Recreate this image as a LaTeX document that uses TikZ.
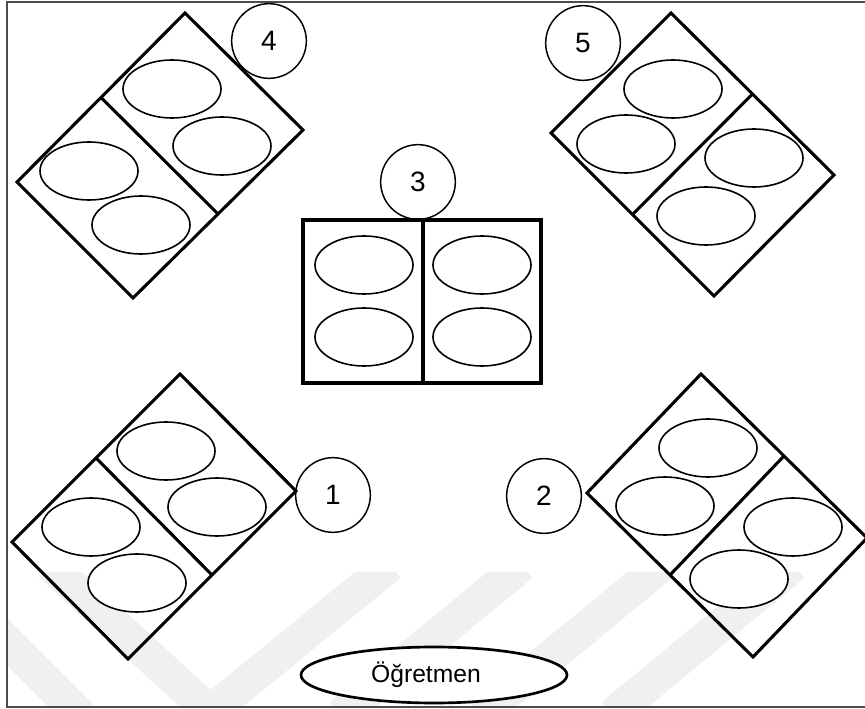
\documentclass[tikz,border=0pt]{standalone}
\usepackage{fontspec}
\setmainfont{Liberation Sans}
\usetikzlibrary{shapes.geometric,calc}
\begin{document}
\begin{tikzpicture}[x=0.75pt,y=-0.75pt,
  desk/.style={line width=2.3pt, line join=miter},
  seat/.style={ellipse, draw, fill=white, line width=1.2pt, minimum width=73.5pt, minimum height=43.5pt, inner sep=0pt},
  num/.style={circle, draw, line width=1.1pt, minimum size=56pt, inner sep=0pt, font=\fontsize{21}{25}\selectfont},
  teacher/.style={ellipse, draw, fill=white, line width=2pt, minimum width=199.5pt, minimum height=42pt, inner sep=0pt, font=\fontsize{18.5}{22}\selectfont},
  wm/.style={draw=black!6, line width=25pt, line cap=butt, line join=miter},
  frame/.style={draw=black!70, line width=1.2pt}]
\useasboundingbox (0,0) rectangle (865,709);

% faint watermark stripes
\begin{scope}
  \clip (8,572) rectangle (865,706);
  \draw[wm] (-20,615) -- (95,730);
  \draw[wm] (50,565) -- (210,712) -- (390,565);
  \draw[wm] (522,565) -- (340,715);
  \draw[wm] (662,565) -- (480,715);
  \draw[wm] (794,565) -- (612,715);
\end{scope}

% frame
\coordinate (f1) at (865,2);
\coordinate (f2) at (7,2);
\coordinate (f3) at (7,707);
\coordinate (f4) at (865,707);
\draw[frame] (f1) -- (f2) -- (f3) -- (f4);

% group 4 (top left)
\coordinate (g4T) at (185,13);
\coordinate (g4R) at (303,130);
\coordinate (g4B) at (133,298);
\coordinate (g4L) at (17,182);
\draw[desk] (g4T) -- (g4R) -- (g4B) -- (g4L) -- cycle;
\draw[desk] ($(g4T)!0.5!(g4L)$) -- ($(g4R)!0.5!(g4B)$);
\node[seat] (s4a) at (172,89) {};
\node[seat] (s4b) at (222,146) {};
\node[seat] (s4c) at (89,171) {};
\node[seat] (s4d) at (141,225) {};
\node[num] (n4) at (269,41) {4};

% group 5 (top right)
\coordinate (g5T) at (671,13);
\coordinate (g5R) at (834,175);
\coordinate (g5B) at (714,296);
\coordinate (g5L) at (551,133);
\draw[desk] (g5T) -- (g5R) -- (g5B) -- (g5L) -- cycle;
\draw[desk] ($(g5T)!0.5!(g5R)$) -- ($(g5L)!0.5!(g5B)$);
\node[seat] (s5a) at (673,89) {};
\node[seat] (s5b) at (626,144) {};
\node[seat] (s5c) at (754,158) {};
\node[seat] (s5d) at (706,216) {};
\node[num] (n5) at (583,43) {5};

% group 3 (centre)
\coordinate (g3a) at (303,220);
\coordinate (g3b) at (541,383);
\coordinate (g3m1) at (423,220);
\coordinate (g3m2) at (423,383);
\draw[desk] (g3a) rectangle (g3b);
\draw[desk] (g3m1) -- (g3m2);
\node[seat] (s3a) at (364,265) {};
\node[seat] (s3b) at (482,265) {};
\node[seat] (s3c) at (364,337) {};
\node[seat] (s3d) at (482,337) {};
\node[num] (n3) at (418,182) {3};

% group 1 (bottom left)
\coordinate (g1T) at (180,374);
\coordinate (g1R) at (296,491);
\coordinate (g1B) at (128,659);
\coordinate (g1L) at (12,542);
\draw[desk] (g1T) -- (g1R) -- (g1B) -- (g1L) -- cycle;
\draw[desk] ($(g1T)!0.5!(g1L)$) -- ($(g1R)!0.5!(g1B)$);
\node[seat] (s1a) at (166,451) {};
\node[seat] (s1b) at (217,507) {};
\node[seat] (s1c) at (91,527) {};
\node[seat] (s1d) at (137,583) {};
\node[num] (n1) at (333,495) {1};

% group 2 (bottom right)
\coordinate (g2T) at (701,374);
\coordinate (g2R) at (867,538);
\coordinate (g2B) at (753,657);
\coordinate (g2L) at (587,493);
\draw[desk] (g2T) -- (g2R) -- (g2B) -- (g2L) -- cycle;
\draw[desk] ($(g2T)!0.5!(g2R)$) -- ($(g2L)!0.5!(g2B)$);
\node[seat] (s2a) at (708,448) {};
\node[seat] (s2b) at (665,506) {};
\node[seat] (s2c) at (793,527) {};
\node[seat] (s2d) at (739,579) {};
\node[num] (n2) at (544,496) {2};

% teacher
\node[teacher] (t) at (434,675) {Öğretmen\hspace*{12pt}};
\end{tikzpicture}
\end{document}
